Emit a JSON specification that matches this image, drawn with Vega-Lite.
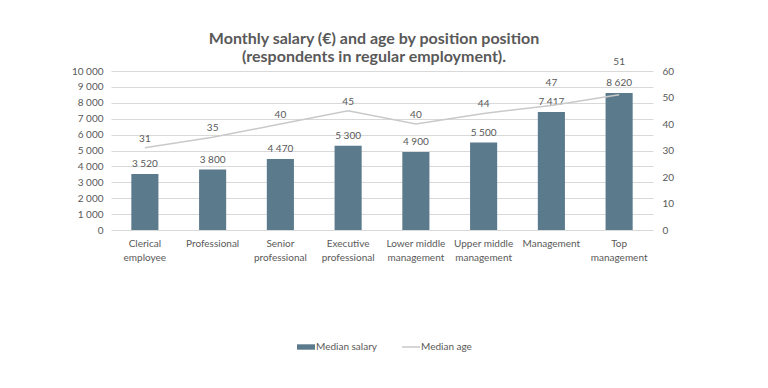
{
  "$schema": "https://vega.github.io/schema/vega-lite/v6.json",
  "width": 542,
  "height": 159,
  "autosize": {"type": "none"},
  "padding": {"left": 111, "top": 71, "right": 115, "bottom": 158},
  "background": "white",
  "config": {
    "font": "Lato",
    "view": {"stroke": null},
    "axis": {"labelColor": "#595959", "labelFont": "Lato", "labelFontSize": 10, "domain": false, "ticks": false, "title": null, "labelOverlap": false}
  },
  "title": {
    "text": ["Monthly salary (€) and age by position position", "(respondents in regular employment)."],
    "fontSize": 16,
    "fontWeight": "bold",
    "color": "#595959",
    "font": "Lato",
    "lineHeight": 18,
    "anchor": "middle",
    "dx": -8,
    "offset": -8
  },
  "data": {
    "values": [
      {"position": "Clerical employee", "salary": 3520, "age": 31},
      {"position": "Professional", "salary": 3800, "age": 35},
      {"position": "Senior professional", "salary": 4470, "age": 40},
      {"position": "Executive professional", "salary": 5300, "age": 45},
      {"position": "Lower middle management", "salary": 4900, "age": 40},
      {"position": "Upper middle management", "salary": 5500, "age": 44},
      {"position": "Management", "salary": 7417, "age": 47},
      {"position": "Top management", "salary": 8620, "age": 51}
    ]
  },
  "encoding": {
    "x": {
      "field": "position",
      "type": "nominal",
      "sort": null,
      "scale": {"paddingInner": 0.6, "paddingOuter": 0.3},
      "axis": {
        "labelAngle": 0,
        "labelPadding": 8,
        "labelLineHeight": 14,
        "labelExpr": "lastindexof(datum.label, ' ') > 0 ? [substring(datum.label, 0, lastindexof(datum.label, ' ')), substring(datum.label, lastindexof(datum.label, ' ') + 1)] : datum.label"
      }
    }
  },
  "layer": [
    {
      "encoding": {
        "y": {
          "field": "salary",
          "type": "quantitative",
          "scale": {"domain": [0, 10000], "nice": false},
          "axis": {
            "orient": "left",
            "values": [0, 1000, 2000, 3000, 4000, 5000, 6000, 7000, 8000, 9000, 10000],
            "tickCount": 11,
            "labelPadding": 8,
            "grid": true,
            "gridColor": "#d9d9d9",
            "gridWidth": 1,
            "labelExpr": "replace(format(datum.value, ','), ',', ' ')"
          }
        }
      },
      "layer": [
        {
          "mark": {"type": "bar"},
          "encoding": {
            "color": {
              "datum": "Median salary",
              "type": "nominal",
              "scale": {"domain": ["Median salary", "Median age"], "range": ["#5b7a8c", "#c9c9c9"]},
              "legend": {
                "orient": "none",
                "legendX": 190,
                "legendY": 271,
                "direction": "horizontal",
                "title": null,
                "labelColor": "#595959",
                "labelFont": "Lato",
                "labelFontSize": 10,
                "labelOffset": 5,
                "columnPadding": 22,
                "symbolSize": 324,
                "encode": {
                  "symbols": {
                    "update": {
                      "shape": {"signal": "datum.value == 'Median salary' ? 'M-1,-0.3H1V0.3H-1Z' : 'M-1,0H1'"},
                      "fill": {"signal": "datum.value == 'Median salary' ? '#5b7a8c' : 'transparent'"},
                      "stroke": {"signal": "datum.value == 'Median salary' ? '#5b7a8c' : '#c9c9c9'"},
                      "strokeWidth": {"signal": "datum.value == 'Median salary' ? 0 : 1.5"},
                      "opacity": {"value": 1}
                    }
                  }
                }
              }
            }
          }
        },
        {
          "transform": [{"calculate": "replace(format(datum.salary, ','), ',', ' ')", "as": "salaryLabel"}],
          "mark": {"type": "text", "baseline": "bottom", "dy": -5, "fontSize": 10, "color": "#595959", "font": "Lato"},
          "encoding": {
            "text": {"field": "salaryLabel", "type": "nominal"}
          }
        }
      ]
    },
    {
      "encoding": {
        "y": {
          "field": "age",
          "type": "quantitative",
          "scale": {"domain": [0, 60], "nice": false},
          "axis": {
            "orient": "right",
            "values": [0, 10, 20, 30, 40, 50, 60],
            "tickCount": 7,
            "labelPadding": 9,
            "grid": false
          }
        }
      },
      "layer": [
        {
          "mark": {"type": "line", "strokeWidth": 1.5},
          "encoding": {
            "color": {"datum": "Median age", "type": "nominal"}
          }
        },
        {
          "transform": [{"filter": "datum.age < 47"}],
          "mark": {"type": "text", "baseline": "bottom", "dy": -4, "fontSize": 10, "color": "#595959", "font": "Lato"},
          "encoding": {
            "text": {"field": "age", "type": "quantitative"}
          }
        },
        {
          "transform": [{"filter": "datum.position == 'Management'"}],
          "mark": {"type": "text", "baseline": "bottom", "dy": -17, "fontSize": 10, "color": "#595959", "font": "Lato"},
          "encoding": {
            "text": {"field": "age", "type": "quantitative"}
          }
        },
        {
          "transform": [{"filter": "datum.position == 'Top management'"}],
          "mark": {"type": "text", "baseline": "bottom", "dy": -28, "fontSize": 10, "color": "#595959", "font": "Lato"},
          "encoding": {
            "text": {"field": "age", "type": "quantitative"}
          }
        }
      ]
    }
  ],
  "resolve": {"scale": {"y": "independent"}}
}
